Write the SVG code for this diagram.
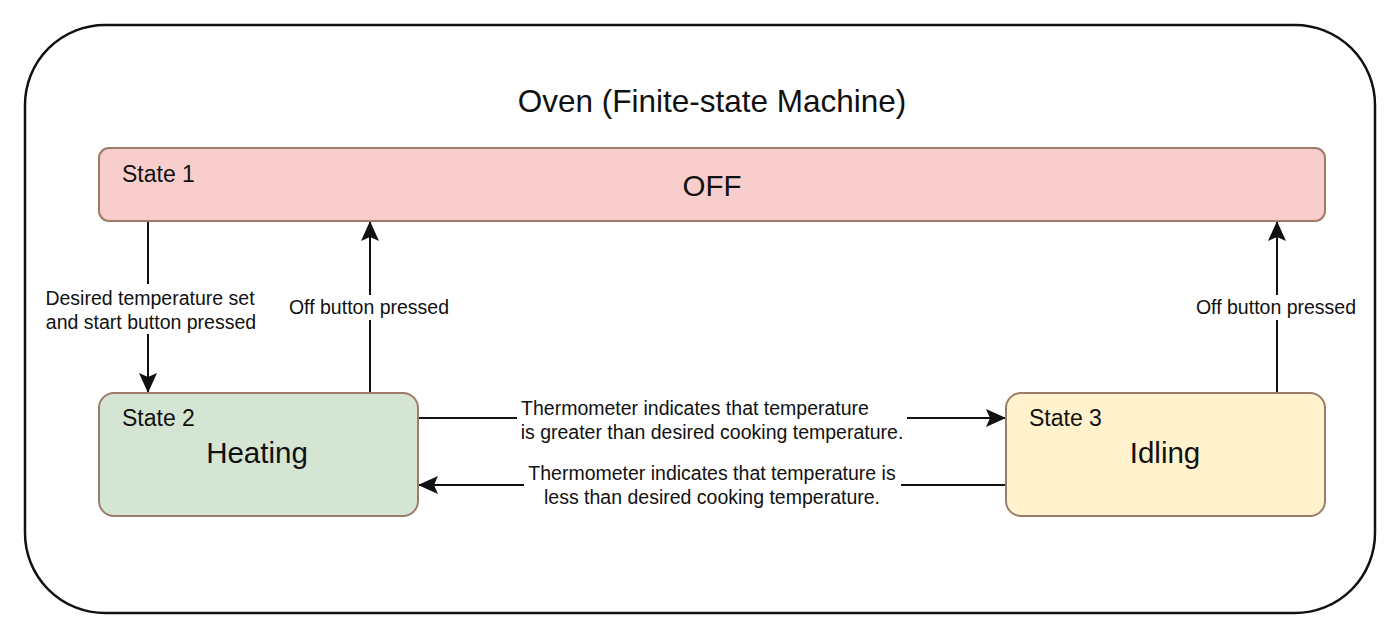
<svg xmlns="http://www.w3.org/2000/svg" width="1400" height="640" viewBox="0 0 1400 640">
<defs>
<style>
text{font-family:"Liberation Sans",Arial,sans-serif;fill:#111}
.state{stroke:#9c7b68;stroke-width:2}
.lbl{font-size:19.5px;text-anchor:middle}
.sub{font-size:23px}
.big{font-size:29.5px;text-anchor:middle}
.edge{fill:none;stroke:#111;stroke-width:2}
.bg{fill:#fff;stroke:none}
</style>
<marker id="ah" viewBox="0 0 20 20" refX="19" refY="10" markerWidth="20" markerHeight="20" markerUnits="userSpaceOnUse" orient="auto">
<path d="M0,1 L20,10 L0,19 L4,10 Z" fill="#111"/>
</marker>
</defs>
<rect width="1400" height="640" fill="#fff"/>
<g id="container">
<rect x="25" y="25" width="1350" height="588" rx="80" ry="80" fill="#fff" stroke="#111" stroke-width="2.5"/>
<text x="712" y="112" style="font-size:31.5px" text-anchor="middle">Oven (Finite-state Machine)</text>
</g>
<g id="connectors">
<g id="e1">
<path class="edge" d="M148,221 V392" marker-end="url(#ah)"/>
<rect class="bg" x="40" y="284" width="222" height="50"/>
<text class="lbl" x="150" y="305">Desired temperature set</text>
<text class="lbl" x="151" y="329">and start button pressed</text>
</g>
<g id="e2">
<path class="edge" d="M370,393 V222" marker-end="url(#ah)"/>
<rect class="bg" x="286" y="295" width="166" height="25"/>
<text class="lbl" x="369" y="314">Off button pressed</text>
</g>
<g id="e3">
<path class="edge" d="M1277,393 V222" marker-end="url(#ah)"/>
<rect class="bg" x="1193" y="295" width="168" height="25"/>
<text class="lbl" x="1276" y="314">Off button pressed</text>
</g>
<g id="e4">
<path class="edge" d="M418,418 H1005" marker-end="url(#ah)"/>
<rect class="bg" x="517" y="397" width="390" height="46"/>
<text class="lbl" x="695" y="415">Thermometer indicates that temperature</text>
<text class="lbl" x="712" y="439">is greater than desired cooking temperature.</text>
</g>
<g id="e5">
<path class="edge" d="M1006,485 H419" marker-end="url(#ah)"/>
<rect class="bg" x="524" y="462" width="377" height="46"/>
<text class="lbl" x="712" y="480">Thermometer indicates that temperature is</text>
<text class="lbl" x="712" y="504">less than desired cooking temperature.</text>
</g>
</g>
<g id="state1">
<rect class="state" x="99" y="148" width="1226" height="73" rx="10" fill="#f8cecc"/>
<text class="sub" x="122" y="182">State 1</text>
<text class="big" x="712" y="196">OFF</text>
</g>
<g id="state2">
<rect class="state" x="99" y="393" width="319" height="123" rx="15" fill="#d5e5d3"/>
<text class="sub" x="122" y="426">State 2</text>
<text class="big" x="257" y="463">Heating</text>
</g>
<g id="state3">
<rect class="state" x="1006" y="393" width="319" height="123" rx="15" fill="#fff2cc"/>
<text class="sub" x="1029" y="426">State 3</text>
<text class="big" x="1165" y="463">Idling</text>
</g>
</svg>
